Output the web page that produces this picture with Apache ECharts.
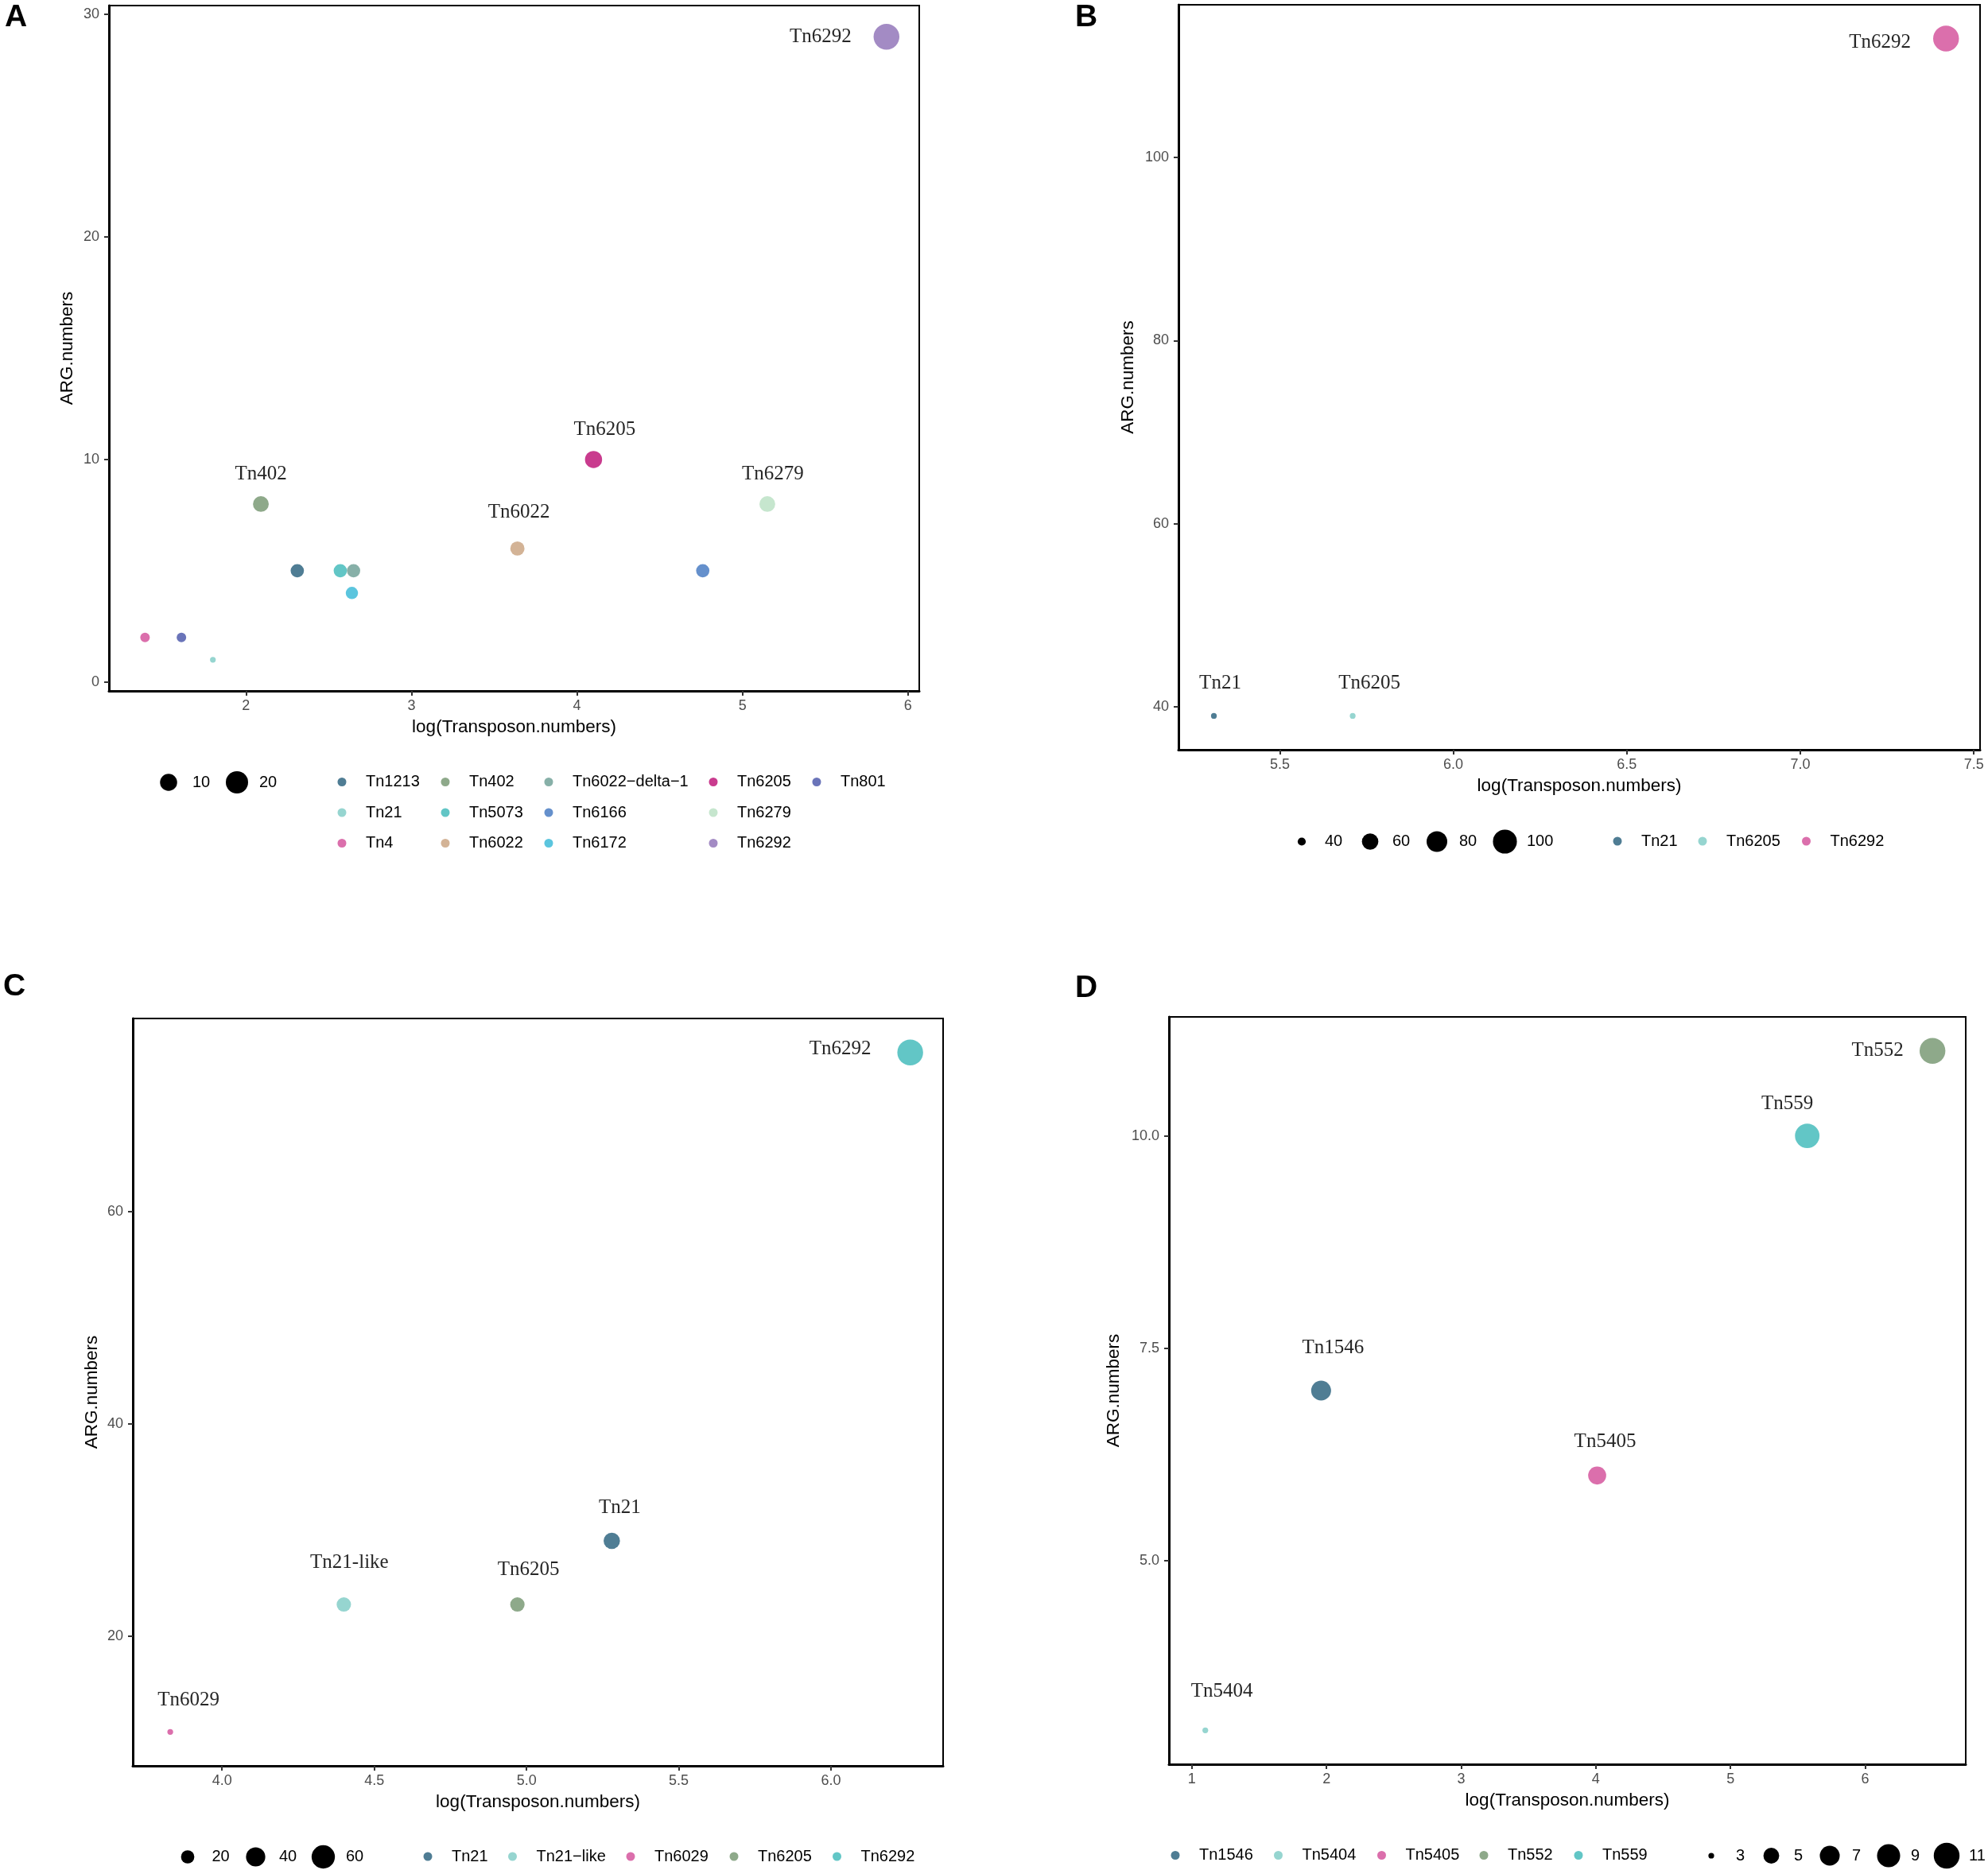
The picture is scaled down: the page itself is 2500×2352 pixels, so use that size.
<!DOCTYPE html>
<html>
<head>
<meta charset="utf-8">
<script src="https://cdn.jsdelivr.net/npm/echarts@6/dist/echarts.min.js"></script>
<style>html,body{margin:0;padding:0;background:#fff}#chart{width:2500px;height:2352px}</style>
</head>
<body>
<div id="chart"></div>
<script>
// ---------------- DATA ----------------
// Panel A
const namesA = ['Tn1213','Tn21','Tn4','Tn402','Tn5073','Tn6022','Tn6022-delta-1','Tn6166','Tn6172','Tn6205','Tn6279','Tn6292','Tn801'];
const logTnA = [2.31, 1.80, 1.39, 2.09, 2.57, 3.64, 2.65, 4.76, 2.64, 4.10, 5.15, 5.87, 1.61];
const argA   = [5, 1, 2, 8, 5, 6, 5, 5, 4, 10, 8, 29, 2];
const xRangeA = [1.172, 6.068];
const yRangeA = [-0.4, 30.4];
const xTicksA = [2, 3, 4, 5, 6];
const yTicksA = [0, 10, 20, 30];
const sizeBreaksA = [10, 20];
const labelledA = ['Tn402', 'Tn6022', 'Tn6205', 'Tn6279', 'Tn6292'];

// Panel B
const namesB = ['Tn21', 'Tn6205', 'Tn6292'];
const logTnB = [5.31, 5.71, 7.42];
const argB   = [39, 39, 113];
const xRangeB = [5.208, 7.518];
const yRangeB = [35.3, 116.7];
const xTicksB = [5.5, 6.0, 6.5, 7.0, 7.5];
const yTicksB = [40, 60, 80, 100];
const sizeBreaksB = [40, 60, 80, 100];
const labelledB = ['Tn21', 'Tn6205', 'Tn6292'];

// Panel C
const namesC = ['Tn21', 'Tn21-like', 'Tn6029', 'Tn6205', 'Tn6292'];
const logTnC = [5.28, 4.40, 3.83, 4.97, 6.26];
const argC   = [29, 23, 11, 23, 75];
const xRangeC = [3.707, 6.368];
const yRangeC = [7.8, 78.2];
const xTicksC = [4.0, 4.5, 5.0, 5.5, 6.0];
const yTicksC = [20, 40, 60];
const sizeBreaksC = [20, 40, 60];
const labelledC = ['Tn21', 'Tn21-like', 'Tn6029', 'Tn6205', 'Tn6292'];

// Panel D
const namesD = ['Tn1546', 'Tn5404', 'Tn5405', 'Tn552', 'Tn559'];
const logTnD = [1.96, 1.10, 4.01, 6.50, 5.57];
const argD   = [7, 3, 6, 11, 10];
const xRangeD = [0.830, 6.747];
const yRangeD = [2.6, 11.4];
const xTicksD = [1, 2, 3, 4, 5, 6];
const yTicksD = [5.0, 7.5, 10.0];
const sizeBreaksD = [3, 5, 7, 9, 11];
const labelledD = ['Tn1546', 'Tn5404', 'Tn5405', 'Tn552', 'Tn559'];

// ---------------- STYLE / LAYOUT ----------------
const palette = ['#4F7D94', '#96D5D0', '#DB6FAC', '#8EA98A', '#62C6C6', '#D3B396', '#87B0A8',
                 '#6590CC', '#5BC5DE', '#C93B8E', '#C6E6CE', '#A38BC4', '#6A74B9'];
const SANS = 'Liberation Sans';
const SERIF = 'Liberation Serif';

const panels = [
  { key: 'A', names: namesA, xs: logTnA, ys: argA, xRange: xRangeA, yRange: yRangeA, xTicks: xTicksA, yTicks: yTicksA, xDec: 0, yDec: 0,
    sizeBreaks: sizeBreaksA, labelled: labelledA,
    grid: { left: 137, top: 7, width: 1019, height: 862 }, yNameGap: 41,
    letter: { left: 6, top: 3 },
    labelOff: { 'Tn402': [0, -37], 'Tn6022': [2, -45], 'Tn6205': [14, -37], 'Tn6279': [7, -37], 'Tn6292': [-83, 0] },
    colLegend: { cols: [430, 560, 690, 897, 1027], rows: [984, 1022.5, 1061] },
    sizeLegend: { cx: [212, 298], tx: [242, 326], y: 984 } },
  { key: 'B', names: namesB, xs: logTnB, ys: argB, xRange: xRangeB, yRange: yRangeB, xTicks: xTicksB, yTicks: yTicksB, xDec: 1, yDec: 0,
    sizeBreaks: sizeBreaksB, labelled: labelledB,
    grid: { left: 1482, top: 6, width: 1008, height: 937 }, yNameGap: 52,
    letter: { left: 1352, top: 3 },
    labelOff: { 'Tn21': [8, -41], 'Tn6205': [21, -41], 'Tn6292': [-83, 5] },
    colLegend: { cols: [2034, 2141, 2271.5], rows: [1058.5] },
    sizeLegend: { cx: [1637, 1723, 1807, 1892.5], tx: [1666, 1751, 1835, 1920], y: 1058.5 } },
  { key: 'C', names: namesC, xs: logTnC, ys: argC, xRange: xRangeC, yRange: yRangeC, xTicks: xTicksC, yTicks: yTicksC, xDec: 1, yDec: 0,
    sizeBreaks: sizeBreaksC, labelled: labelledC,
    grid: { left: 167, top: 1281, width: 1019, height: 940 }, yNameGap: 40,
    letter: { left: 4, top: 1222 },
    labelOff: { 'Tn6029': [23, -40], 'Tn21-like': [7, -53], 'Tn6205': [14, -44], 'Tn21': [10, -41], 'Tn6292': [-88, -4] },
    colLegend: { cols: [538, 644.5, 793, 923, 1052.5], rows: [2335.5] },
    sizeLegend: { cx: [236, 321.5, 406.5], tx: [266.5, 351, 435], y: 2335.5 } },
  { key: 'D', names: namesD, xs: logTnD, ys: argD, xRange: xRangeD, yRange: yRangeD, xTicks: xTicksD, yTicks: yTicksD, xDec: 0, yDec: 1,
    sizeBreaks: sizeBreaksD, labelled: labelledD,
    grid: { left: 1470, top: 1279, width: 1002, height: 940 }, yNameGap: 58,
    letter: { left: 1352, top: 1224 },
    labelOff: { 'Tn5404': [21, -49], 'Tn1546': [15, -54], 'Tn5405': [10, -42], 'Tn559': [-25, -40], 'Tn552': [-69, 0] },
    colLegend: { cols: [1478, 1607.5, 1737.5, 1866, 1985], rows: [2334] },
    sizeLegend: { cx: [2152, 2227.5, 2301, 2375, 2448], tx: [2183, 2256, 2329, 2403, 2476], y: 2334 } }
];

// ggplot-like area size scale: size 1..6, diameter in px
function diam(v, vmin, vmax) {
  const t = Math.max(0, (v - vmin) / (vmax - vmin));
  const s = 1 + 5 * Math.sqrt(t);
  return 2.2 + 5.04 * s;
}

const grids = [], xAxes = [], yAxes = [], series = [], legends = [], titles = [], graphics = [];

panels.forEach((P, gi) => {
  grids.push(Object.assign({ show: true, borderColor: '#000', borderWidth: 2, backgroundColor: 'transparent', containLabel: false }, P.grid));
  xAxes.push({
    type: 'value', gridIndex: gi, min: P.xRange[0], max: P.xRange[1],
    name: 'log(Transposon.numbers)', nameLocation: 'middle', nameGap: 34,
    nameTextStyle: { fontFamily: SANS, fontSize: 22.5, color: '#000' },
    axisLine: { show: true, onZero: false, lineStyle: { color: '#000', width: 3 } },
    axisTick: { show: true, length: 6, customValues: P.xTicks, lineStyle: { color: '#333', width: 2 } },
    axisLabel: { show: true, customValues: P.xTicks, formatter: v => Number(v).toFixed(P.xDec),
                 fontFamily: SANS, fontSize: 18, color: '#4D4D4D', margin: 10 },
    splitLine: { show: false }
  });
  yAxes.push({
    type: 'value', gridIndex: gi, min: P.yRange[0], max: P.yRange[1],
    name: 'ARG.numbers', nameLocation: 'middle', nameGap: P.yNameGap, nameRotate: 90,
    nameTextStyle: { fontFamily: SANS, fontSize: 22.5, color: '#000' },
    axisLine: { show: true, onZero: false, lineStyle: { color: '#000', width: 3 } },
    axisTick: { show: true, length: 6, customValues: P.yTicks, lineStyle: { color: '#333', width: 2 } },
    axisLabel: { show: true, customValues: P.yTicks, formatter: v => Number(v).toFixed(P.yDec),
                 fontFamily: SANS, fontSize: 18, color: '#4D4D4D', margin: 12 },
    splitLine: { show: false }
  });
  const vmin = Math.min(...P.ys), vmax = Math.max(...P.ys);
  P.names.forEach((n, i) => {
    const off = P.labelled.indexOf(n) >= 0 ? P.labelOff[n] : null;
    series.push({
      type: 'scatter', name: P.key + '|' + n, xAxisIndex: gi, yAxisIndex: gi,
      data: [[P.xs[i], P.ys[i]]],
      symbol: 'circle', symbolSize: diam(P.ys[i], vmin, vmax),
      itemStyle: { color: palette[i], opacity: 1 },
      label: off ? { show: true, position: 'inside', offset: off, formatter: n,
                     fontFamily: SERIF, fontSize: 25, color: '#262626' } : { show: false },
      emphasis: { disabled: true }, silent: true
    });
    // colour legend item
    const nrow = P.colLegend.rows.length;
    const col = Math.floor(i / nrow), row = i % nrow;
    legends.push({
      data: [P.key + '|' + n], left: P.colLegend.cols[col] - 5.5, top: P.colLegend.rows[row] - 10.5,
      padding: 0, icon: 'circle', itemWidth: 11, itemHeight: 11, selectedMode: false,
      formatter: nm => nm.split('|')[1].replace(/-/g, '\u2212'),
      textStyle: { fontFamily: SANS, fontSize: 20, color: '#000', padding: [0, 0, 0, 19.5] }
    });
  });
  // size legend
  P.sizeBreaks.forEach((b, k) => {
    graphics.push({ type: 'circle', shape: { cx: P.sizeLegend.cx[k], cy: P.sizeLegend.y, r: diam(b, vmin, vmax) / 2 },
                    style: { fill: '#000' }, silent: true });
    graphics.push({ type: 'text', x: P.sizeLegend.tx[k], y: P.sizeLegend.y,
                    style: { text: String(b), fontFamily: SANS, fontSize: 20, fill: '#000', align: 'left', verticalAlign: 'middle' }, silent: true });
  });
  titles.push({ text: P.key, left: P.letter.left, top: P.letter.top, padding: 0,
                textStyle: { fontFamily: SANS, fontSize: 39, fontWeight: 'bold', color: '#000' } });
});

const chart = echarts.init(document.getElementById('chart'), null, { renderer: 'canvas' });
chart.setOption({
  backgroundColor: '#fff',
  animation: false,
  title: titles,
  grid: grids,
  xAxis: xAxes,
  yAxis: yAxes,
  legend: legends,
  graphic: graphics,
  series: series
});
</script>
</body>
</html>
